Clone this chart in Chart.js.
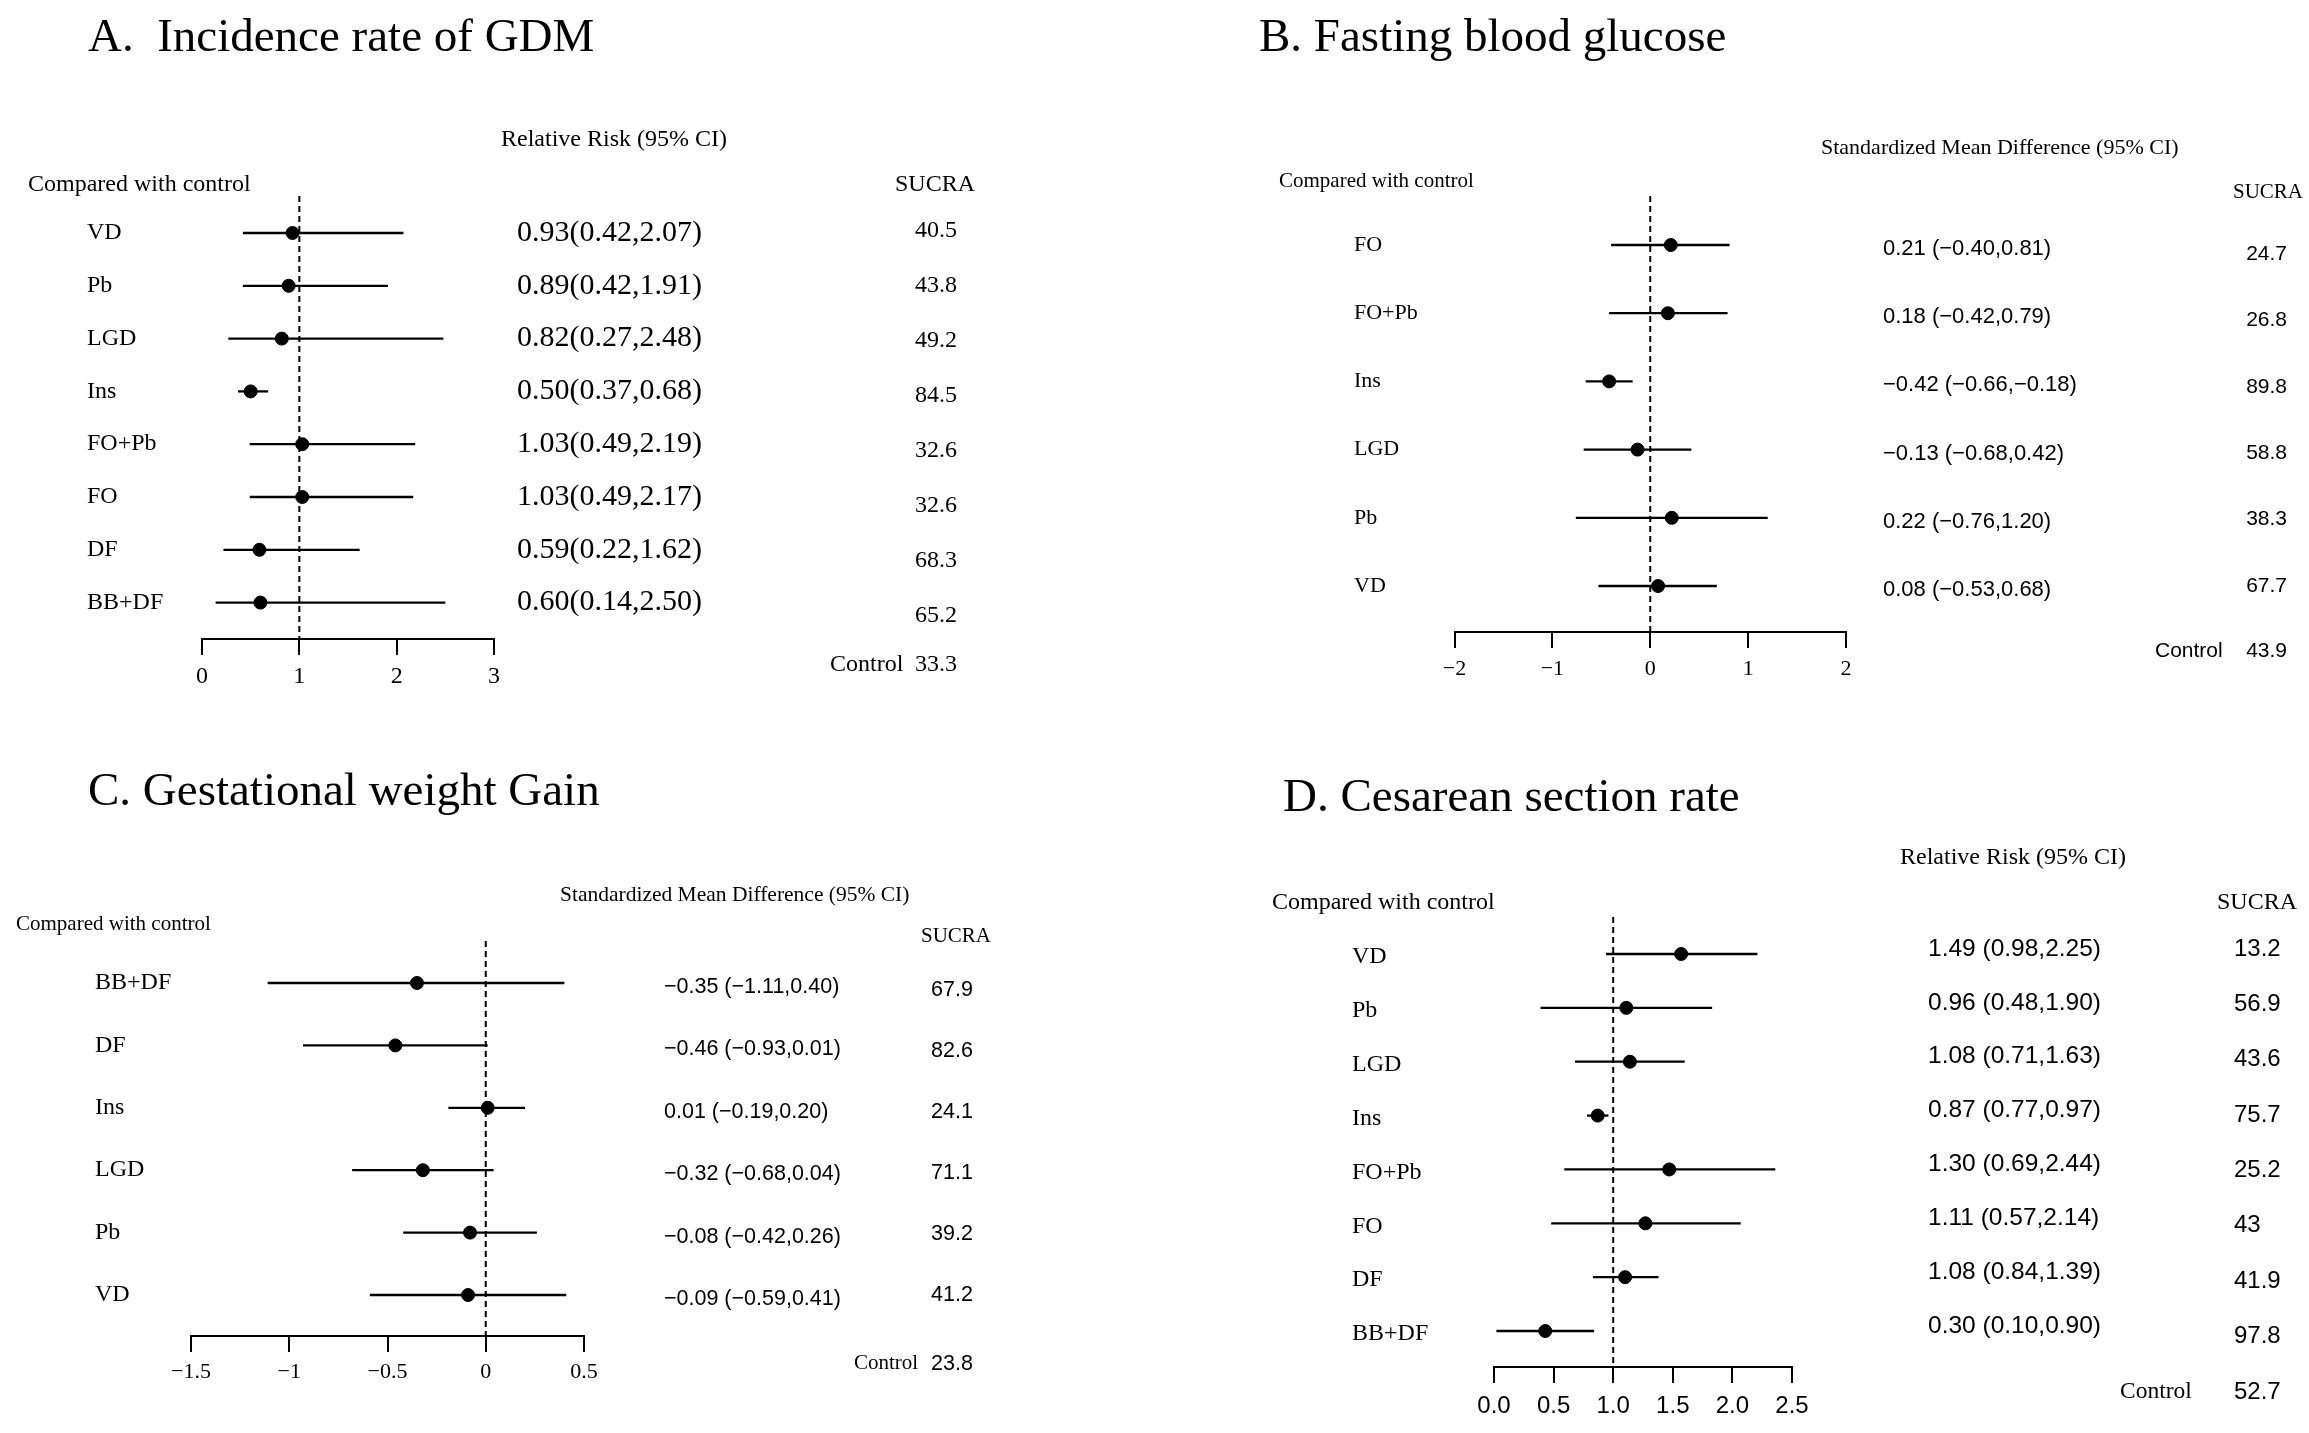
<!DOCTYPE html>
<html lang="en">
<head>
  <meta charset="UTF-8">
  <title>Forest plots - SUCRA</title>
  <script src="https://cdn.jsdelivr.net/npm/chart.js"></script>
  <style>
    body { margin: 0; background: #fff; }
    #fig { position: relative; width: 2309px; height: 1433px; background: #fff; overflow: hidden; }
    #fig canvas { position: absolute; }
  </style>
</head>
<body>
  <div id="fig">
    <canvas id="chartA" width="1154" height="716" style="left:0px;top:0px"></canvas>
    <canvas id="chartB" width="1155" height="716" style="left:1154px;top:0px"></canvas>
    <canvas id="chartC" width="1154" height="717" style="left:0px;top:716px"></canvas>
    <canvas id="chartD" width="1155" height="717" style="left:1154px;top:716px"></canvas>
  </div>

  <script>
    // A. Incidence rate of GDM
    const gdmLabels = ["VD", "Pb", "LGD", "Ins", "FO+Pb", "FO", "DF", "BB+DF"];
    const gdmEst  = [0.93, 0.89, 0.82, 0.50, 1.03, 1.03, 0.59, 0.60];
    const gdmLow  = [0.42, 0.42, 0.27, 0.37, 0.49, 0.49, 0.22, 0.14];
    const gdmHigh = [2.07, 1.91, 2.48, 0.68, 2.19, 2.17, 1.62, 2.50];
    const gdmText = ["0.93(0.42,2.07)", "0.89(0.42,1.91)", "0.82(0.27,2.48)", "0.50(0.37,0.68)",
                     "1.03(0.49,2.19)", "1.03(0.49,2.17)", "0.59(0.22,1.62)", "0.60(0.14,2.50)"];
    const gdmSucra = ["40.5", "43.8", "49.2", "84.5", "32.6", "32.6", "68.3", "65.2"];
    const gdmControl = "33.3";
    const gdmTicks = [0, 1, 2, 3];
    const gdmTickText = ["0", "1", "2", "3"];

    // B. Fasting blood glucose
    const fbgLabels = ["FO", "FO+Pb", "Ins", "LGD", "Pb", "VD"];
    const fbgEst  = [0.21, 0.18, -0.42, -0.13, 0.22, 0.08];
    const fbgLow  = [-0.40, -0.42, -0.66, -0.68, -0.76, -0.53];
    const fbgHigh = [0.81, 0.79, -0.18, 0.42, 1.20, 0.68];
    const fbgText = ["0.21 (\u22120.40,0.81)", "0.18 (\u22120.42,0.79)", "\u22120.42 (\u22120.66,\u22120.18)",
                     "\u22120.13 (\u22120.68,0.42)", "0.22 (\u22120.76,1.20)", "0.08 (\u22120.53,0.68)"];
    const fbgSucra = ["24.7", "26.8", "89.8", "58.8", "38.3", "67.7"];
    const fbgControl = "43.9";
    const fbgTicks = [-2, -1, 0, 1, 2];
    const fbgTickText = ["\u22122", "\u22121", "0", "1", "2"];

    // C. Gestational weight gain
    const gwgLabels = ["BB+DF", "DF", "Ins", "LGD", "Pb", "VD"];
    const gwgEst  = [-0.35, -0.46, 0.01, -0.32, -0.08, -0.09];
    const gwgLow  = [-1.11, -0.93, -0.19, -0.68, -0.42, -0.59];
    const gwgHigh = [0.40, 0.01, 0.20, 0.04, 0.26, 0.41];
    const gwgText = ["\u22120.35 (\u22121.11,0.40)", "\u22120.46 (\u22120.93,0.01)", "0.01 (\u22120.19,0.20)",
                     "\u22120.32 (\u22120.68,0.04)", "\u22120.08 (\u22120.42,0.26)", "\u22120.09 (\u22120.59,0.41)"];
    const gwgSucra = ["67.9", "82.6", "24.1", "71.1", "39.2", "41.2"];
    const gwgControl = "23.8";
    const gwgTicks = [-1.5, -1, -0.5, 0, 0.5];
    const gwgTickText = ["\u22121.5", "\u22121", "\u22120.5", "0", "0.5"];

    // D. Cesarean section rate (points as drawn in the plot)
    const csLabels = ["VD", "Pb", "LGD", "Ins", "FO+Pb", "FO", "DF", "BB+DF"];
    const csEst  = [1.57, 1.11, 1.14, 0.87, 1.47, 1.27, 1.10, 0.43];
    const csLow  = [0.94, 0.39, 0.68, 0.78, 0.59, 0.48, 0.83, 0.02];
    const csHigh = [2.21, 1.83, 1.60, 0.96, 2.36, 2.07, 1.38, 0.84];
    const csText = ["1.49 (0.98,2.25)", "0.96 (0.48,1.90)", "1.08 (0.71,1.63)", "0.87 (0.77,0.97)",
                    "1.30 (0.69,2.44)", "1.11 (0.57,2.14)", "1.08 (0.84,1.39)", "0.30 (0.10,0.90)"];
    const csSucra = ["13.2", "56.9", "43.6", "75.7", "25.2", "43", "41.9", "97.8"];
    const csControl = "52.7";
    const csTicks = [0, 0.5, 1, 1.5, 2, 2.5];
    const csTickText = ["0.0", "0.5", "1.0", "1.5", "2.0", "2.5"];

    const SERIF = "'Liberation Serif', 'Times New Roman', serif";
    const SANS = "'Liberation Sans', Arial, sans-serif";

    function txt(ctx, s, x, y, font, align, base) {
      ctx.font = font;
      ctx.textAlign = align || "left";
      ctx.textBaseline = base || "alphabetic";
      ctx.fillStyle = "#000";
      ctx.fillText(s, x, y);
    }

    // p: data + layout of one panel, coordinates are page pixels
    function forest(id, p) {
      const canvas = document.getElementById(id);
      const W = canvas.width, H = canvas.height;
      const ox = p.off[0], oy = p.off[1];
      const tickLen = 16;
      const yMin = -(p.row0 - p.plotT) / p.rowStep;
      const yMax = yMin + (p.axisY - p.plotT) / p.rowStep;

      const ciSets = p.labels.map((lab, i) => ({
        type: "line",
        label: lab,
        data: [{ x: p.low[i], y: i }, { x: p.high[i], y: i }],
        borderColor: "#000",
        borderWidth: 2.3,
        pointRadius: 0,
        order: 2
      }));

      const refLine = {
        type: "line",
        label: "ref",
        data: [{ x: p.ref, y: yMin }, { x: p.ref, y: yMax }],
        borderColor: "#000",
        borderWidth: 2,
        borderDash: [6, 4],
        pointRadius: 0,
        order: 3
      };

      const points = {
        type: "scatter",
        label: "estimate",
        data: p.est.map((v, i) => ({ x: v, y: i })),
        backgroundColor: "#000",
        borderColor: "#000",
        pointRadius: 6.5,
        order: 1
      };

      const textPlugin = {
        id: "forestText" + id,
        afterDraw(chart) {
          const ctx = chart.ctx;
          const ys = chart.scales.y, xs = chart.scales.x;
          ctx.save();
          txt(ctx, p.title, p.titleX - ox, p.titleY - oy, "47px " + SERIF);
          txt(ctx, p.head, p.headX - ox, p.headY - oy, p.headFont);
          txt(ctx, "Compared with control", p.cmpX - ox, p.cmpY - oy, p.cmpFont);
          txt(ctx, "SUCRA", p.sucX - ox, p.sucY - oy, p.cmpFont);
          p.labels.forEach((lab, i) => {
            const y = ys.getPixelForValue(i);
            txt(ctx, lab, p.labX - ox, y + p.labDy, p.labFont, "left", "middle");
            txt(ctx, p.text[i], p.ciX - ox, y + p.ciDy, p.ciFont, "left", "middle");
            const sy = ys.getPixelForValue(p.sucStart + i * p.sucStep);
            txt(ctx, p.sucra[i], p.sucValX - ox, sy, p.sucFont, p.sucAlign, "middle");
          });
          const cy = ys.getPixelForValue(p.ctrlRow);
          txt(ctx, "Control", p.ctrlX - ox, cy, p.ctrlFont, "left", "middle");
          txt(ctx, p.control, p.sucValX - ox, cy, p.sucFont, p.sucAlign, "middle");
          p.ticks.forEach((t, i) => {
            txt(ctx, p.tickText[i], xs.getPixelForValue(t), p.axisY - oy + p.tickDy, p.tickFont, "center");
          });
          ctx.restore();
        }
      };

      new Chart(canvas, {
        data: { datasets: [refLine, ...ciSets, points] },
        options: {
          responsive: false,
          animation: false,
          devicePixelRatio: 1,
          events: [],
          layout: {
            padding: {
              left: p.plotL - ox,
              right: W - (p.plotR - ox),
              top: p.plotT - oy,
              bottom: H - (p.axisY - oy) - tickLen
            }
          },
          plugins: { legend: { display: false }, tooltip: { enabled: false }, title: { display: false } },
          scales: {
            x: {
              type: "linear",
              position: "bottom",
              min: p.ticks[0],
              max: p.ticks[p.ticks.length - 1],
              afterBuildTicks: s => { s.ticks = p.ticks.map(v => ({ value: v })); },
              ticks: { display: false },
              grid: { drawOnChartArea: false, drawTicks: true, tickLength: tickLen, color: "#000", lineWidth: 2 },
              border: { display: true, color: "#000", width: 2 }
            },
            y: {
              type: "linear",
              display: false,
              reverse: true,
              min: yMin,
              max: yMax
            }
          }
        },
        plugins: [textPlugin]
      });
    }

    forest("chartA", {
      off: [0, 0], ref: 1,
      labels: gdmLabels, est: gdmEst, low: gdmLow, high: gdmHigh, text: gdmText,
      sucra: gdmSucra, control: gdmControl, ticks: gdmTicks, tickText: gdmTickText,
      plotL: 202, plotR: 494, plotT: 196, axisY: 639, row0: 233, rowStep: 52.8,
      title: "A.  Incidence rate of GDM", titleX: 88, titleY: 51,
      head: "Relative Risk (95% CI)", headX: 501, headY: 146, headFont: "24px " + SERIF,
      cmpX: 28, cmpY: 191, sucX: 895, sucY: 191, cmpFont: "24px " + SERIF,
      labX: 87, labDy: 0, labFont: "24px " + SERIF,
      ciX: 517, ciDy: 0, ciFont: "30px " + SERIF,
      sucValX: 936, sucAlign: "center", sucFont: "24px " + SERIF, sucStart: -0.04, sucStep: 1.04,
      ctrlRow: 8.18, ctrlX: 830, ctrlFont: "24px " + SERIF,
      tickDy: 44, tickFont: "24px " + SERIF
    });

    forest("chartB", {
      off: [1154, 0], ref: 0,
      labels: fbgLabels, est: fbgEst, low: fbgLow, high: fbgHigh, text: fbgText,
      sucra: fbgSucra, control: fbgControl, ticks: fbgTicks, tickText: fbgTickText,
      plotL: 1454.5, plotR: 1846, plotT: 196, axisY: 632, row0: 245, rowStep: 68.2,
      title: "B. Fasting blood glucose", titleX: 1259, titleY: 51,
      head: "Standardized Mean Difference (95% CI)", headX: 1821, headY: 154, headFont: "22px " + SERIF,
      cmpX: 1279, cmpY: 187, sucX: 2233, sucY: 198, cmpFont: "21px " + SERIF,
      labX: 1354, labDy: 0, labFont: "22px " + SERIF,
      ciX: 1883, ciDy: 4, ciFont: "22px " + SANS,
      sucValX: 2287, sucAlign: "right", sucFont: "21px " + SANS, sucStart: 0.13, sucStep: 0.974,
      ctrlRow: 5.95, ctrlX: 2155, ctrlFont: "21px " + SANS,
      tickDy: 43, tickFont: "22px " + SERIF
    });

    forest("chartC", {
      off: [0, 716], ref: 0,
      labels: gwgLabels, est: gwgEst, low: gwgLow, high: gwgHigh, text: gwgText,
      sucra: gwgSucra, control: gwgControl, ticks: gwgTicks, tickText: gwgTickText,
      plotL: 191, plotR: 584, plotT: 941, axisY: 1336, row0: 983, rowStep: 62.4,
      title: "C. Gestational weight Gain", titleX: 88, titleY: 805,
      head: "Standardized Mean Difference (95% CI)", headX: 560, headY: 901, headFont: "21.5px " + SERIF,
      cmpX: 16, cmpY: 930, sucX: 921, sucY: 942, cmpFont: "21px " + SERIF,
      labX: 95, labDy: 0, labFont: "24px " + SERIF,
      ciX: 664, ciDy: 4, ciFont: "21.5px " + SANS,
      sucValX: 952, sucAlign: "center", sucFont: "21.5px " + SANS, sucStart: 0.11, sucStep: 0.978,
      ctrlRow: 6.1, ctrlX: 854, ctrlFont: "21px " + SERIF,
      tickDy: 42, tickFont: "22px " + SERIF
    });

    forest("chartD", {
      off: [1154, 716], ref: 1,
      labels: csLabels, est: csEst, low: csLow, high: csHigh, text: csText,
      sucra: csSucra, control: csControl, ticks: csTicks, tickText: csTickText,
      plotL: 1494, plotR: 1792, plotT: 917, axisY: 1367, row0: 954, rowStep: 53.86,
      title: "D. Cesarean section rate", titleX: 1283, titleY: 811,
      head: "Relative Risk (95% CI)", headX: 1900, headY: 864, headFont: "24px " + SERIF,
      cmpX: 1272, cmpY: 909, sucX: 2217, sucY: 909, cmpFont: "24px " + SERIF,
      labX: 1352, labDy: 3, labFont: "24px " + SERIF,
      ciX: 1928, ciDy: -5, ciFont: "24.5px " + SANS,
      sucValX: 2234, sucAlign: "left", sucFont: "24px " + SANS, sucStart: -0.09, sucStep: 1.027,
      ctrlRow: 8.13, ctrlX: 2120, ctrlFont: "23.5px " + SERIF,
      tickDy: 46, tickFont: "24px " + SANS
    });
  </script>
</body>
</html>
